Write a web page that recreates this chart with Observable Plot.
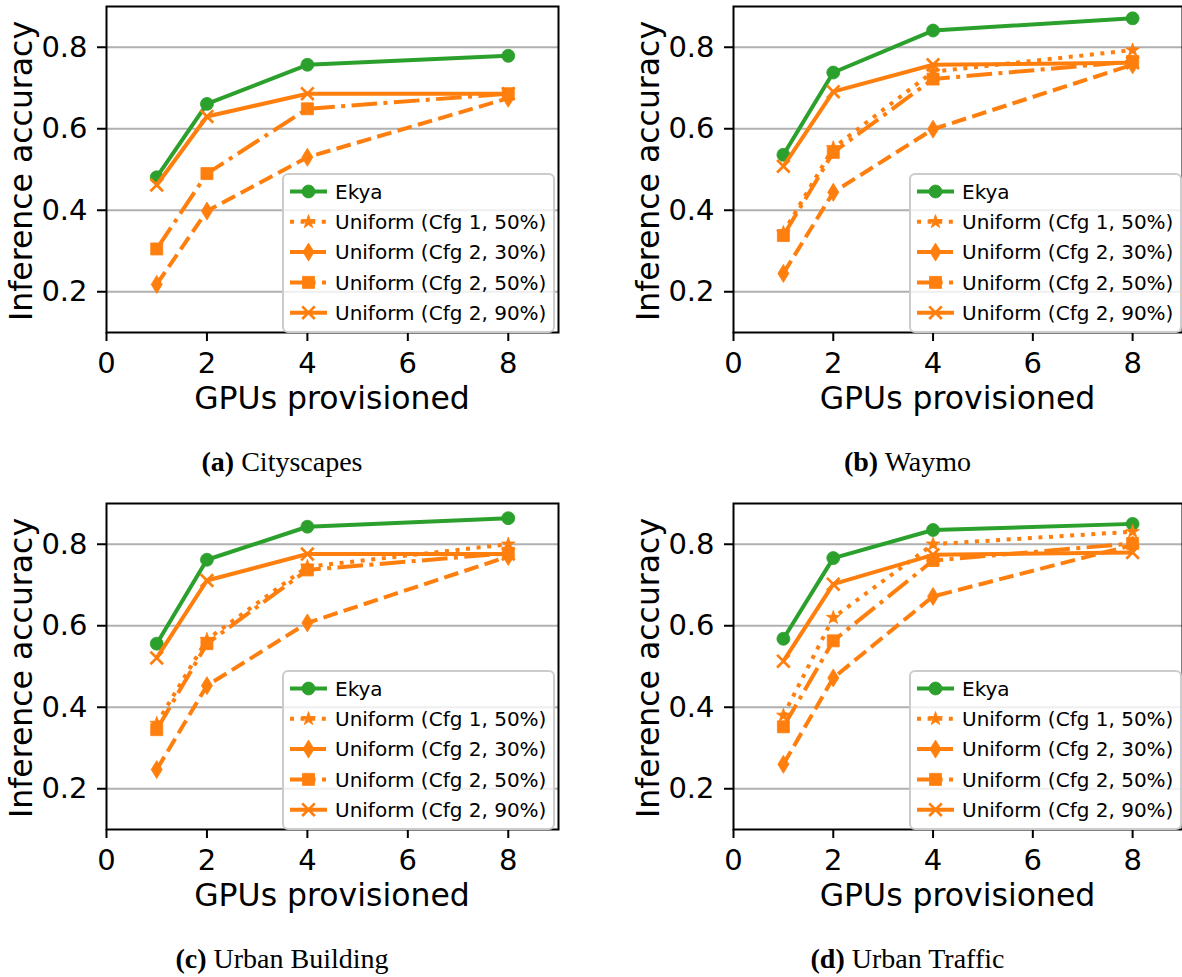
<!DOCTYPE html>
<html>
<head>
<meta charset="utf-8">
<script src="https://cdn.jsdelivr.net/npm/d3@7"></script>
<script src="https://cdn.jsdelivr.net/npm/@observablehq/plot@0.6"></script>
<style>
  html, body { margin: 0; padding: 0; background: #ffffff; }
  #fig { position: relative; width: 1182px; height: 977px; overflow: hidden; background: #ffffff; }
  .panel { position: absolute; }
  #overlay { position: absolute; left: 0; top: 0; pointer-events: none; }
</style>
</head>
<body>
<div id="fig"></div>
<script>
// ---------------- data ----------------
const gpus = [1, 2, 4, 8];
const seriesNames = ["Ekya", "Uniform (Cfg 1, 50%)", "Uniform (Cfg 2, 30%)", "Uniform (Cfg 2, 50%)", "Uniform (Cfg 2, 90%)"];
const xTicks = [0, 2, 4, 6, 8];
const yTicks = [0.2, 0.4, 0.6, 0.8];
const panelLetters = ["a", "b", "c", "d"];
const panelTitles = ["Cityscapes", "Waymo", "Urban Building", "Urban Traffic"];
const xLabel = "GPUs provisioned";
const yLabel = "Inference accuracy";

// (a) Cityscapes
const cityEkya   = [0.481, 0.661, 0.757, 0.779];
const cityCfg1p50 = [];
const cityCfg2p30 = [0.218, 0.398, 0.530, 0.675];
const cityCfg2p50 = [0.305, 0.490, 0.649, 0.686];
const cityCfg2p90 = [0.462, 0.630, 0.686, 0.686];
// (b) Waymo
const waymoEkya   = [0.536, 0.738, 0.841, 0.871];
const waymoCfg1p50 = [0.345, 0.553, 0.740, 0.793];
const waymoCfg2p30 = [0.245, 0.444, 0.599, 0.757];
const waymoCfg2p50 = [0.338, 0.542, 0.722, 0.765];
const waymoCfg2p90 = [0.508, 0.691, 0.757, 0.762];
// (c) Urban Building
const buildEkya   = [0.556, 0.762, 0.843, 0.864];
const buildCfg1p50 = [0.360, 0.566, 0.745, 0.800];
const buildCfg2p30 = [0.247, 0.453, 0.607, 0.770];
const buildCfg2p50 = [0.345, 0.556, 0.737, 0.778];
const buildCfg2p90 = [0.521, 0.711, 0.776, 0.776];
// (d) Urban Traffic
const trafEkya   = [0.568, 0.766, 0.835, 0.850];
const trafCfg1p50 = [0.380, 0.620, 0.800, 0.831];
const trafCfg2p30 = [0.260, 0.472, 0.672, 0.798];
const trafCfg2p50 = [0.352, 0.563, 0.760, 0.802];
const trafCfg2p90 = [0.513, 0.702, 0.774, 0.780];

const panelSeries = [
  [cityEkya, cityCfg1p50, cityCfg2p30, cityCfg2p50, cityCfg2p90],
  [waymoEkya, waymoCfg1p50, waymoCfg2p30, waymoCfg2p50, waymoCfg2p90],
  [buildEkya, buildCfg1p50, buildCfg2p30, buildCfg2p50, buildCfg2p90],
  [trafEkya, trafCfg1p50, trafCfg2p30, trafCfg2p50, trafCfg2p90]
];

// ---------------- styles ----------------
const GREEN = "#2ca02c", ORANGE = "#ff7f0e";
const rad = s => Math.sqrt(s / Math.PI);
const symCircle = { draw(c, s) { const r = rad(s) * 1.08; c.moveTo(r, 0); c.arc(0, 0, r, 0, 2 * Math.PI); c.closePath(); } };
const symSquare = { draw(c, s) { const h = rad(s); c.rect(-h, -h, 2 * h, 2 * h); } };
const symThinDiamond = { draw(c, s) { const r = rad(s); const hh = r * 1.5, hw = r * 0.92; c.moveTo(0, -hh); c.lineTo(hw, 0); c.lineTo(0, hh); c.lineTo(-hw, 0); c.closePath(); } };
const symStar = { draw(c, s) { const R = rad(s) * 1.2, ri = R * 0.4; for (let i = 0; i < 10; i++) { const a = -Math.PI / 2 + i * Math.PI / 5; const rr = i % 2 ? ri : R; const x = rr * Math.cos(a), y = rr * Math.sin(a); i ? c.lineTo(x, y) : c.moveTo(x, y); } c.closePath(); } };
const symX = { draw(c, s) { const h = rad(s) * 1.05; c.moveTo(-h, -h); c.lineTo(h, h); c.moveTo(h, -h); c.lineTo(-h, h); } };

const seriesStyles = [
  { color: GREEN,  dash: null,                 sym: symCircle,      filled: true },
  { color: ORANGE, dash: "4,6.6",              sym: symStar,        filled: true },
  { color: ORANGE, dash: "14.8,6.4",           sym: symThinDiamond, filled: true },
  { color: ORANGE, dash: "25.6,6.4,4,6.4",     sym: symSquare,      filled: true },
  { color: ORANGE, dash: null,                 sym: symX,           filled: false }
];
const MR = 6; // marker "r"
const LW = 4;

// ---------------- layout ----------------
const fig = document.getElementById("fig");
const geo = [
  { left: 0,   top: 0,   width: 591, mL: 106, mR: 33 },
  { left: 591, top: 0,   width: 591, mL: 142, mR: 0 },
  { left: 0,   top: 497, width: 591, mL: 106, mR: 33 },
  { left: 591, top: 497, width: 591, mL: 142, mR: 0 }
];
const H = 420, MT = 6, MB = 88;

geo.forEach((g, p) => {
  const marks = [Plot.gridY(yTicks, { stroke: "#b0b0b0", strokeOpacity: 1, strokeWidth: 2 })];
  panelSeries[p].forEach((vals, i) => {
    const rows = vals.map((v, j) => ({ gpus: gpus[j], acc: v }));
    const st = seriesStyles[i];
    marks.push(Plot.line(rows, {
      x: "gpus", y: "acc", stroke: st.color, strokeWidth: LW,
      strokeDasharray: st.dash || undefined, strokeLinecap: "butt", strokeLinejoin: "round"
    }));
    marks.push(Plot.dot(rows, st.filled
      ? { x: "gpus", y: "acc", symbol: st.sym, r: MR, fill: st.color, stroke: st.color, strokeWidth: 0.8 }
      : { x: "gpus", y: "acc", symbol: st.sym, r: MR, fill: "none", stroke: st.color, strokeWidth: 2.7 }));
  });
  marks.push(Plot.frame({ stroke: "black", strokeWidth: 2 }));
  marks.push(Plot.axisX({ ticks: xTicks, tickSize: 9, tickPadding: 11, label: null, fontSize: 29, strokeWidth: 2 }));
  marks.push(Plot.axisY({ ticks: yTicks, tickSize: 9, tickPadding: 10, label: null, fontSize: 29, strokeWidth: 2, tickFormat: d3.format(".1f") }));

  const chart = Plot.plot({
    width: g.width, height: H,
    marginTop: MT, marginBottom: MB, marginLeft: g.mL, marginRight: g.mR,
    x: { domain: [0, 9] },
    y: { domain: [0.1, 0.9] },
    style: { fontFamily: "DejaVu Sans", fontSize: "29px", color: "black", background: "transparent", overflow: "visible" },
    marks
  });
  chart.classList.add("panel");
  chart.style.left = g.left + "px";
  chart.style.top = g.top + "px";
  fig.appendChild(chart);
});

// ---------------- overlay: labels, captions, legends ----------------
const ov = d3.create("svg").attr("id", "overlay").attr("width", 1182).attr("height", 977)
  .attr("font-family", "DejaVu Sans");
geo.forEach((g, p) => {
  const pl = g.left + g.mL, pr = g.left + g.width - g.mR;
  const pt = g.top + MT, pb = g.top + H - MB;
  const cx = (pl + pr) / 2, cy = (pt + pb) / 2;
  // y label
  ov.append("text").attr("transform", `translate(${pl - 74},${cy + 2}) rotate(-90)`)
    .attr("text-anchor", "middle").attr("font-size", 31.5).attr("fill", "black").text(yLabel);
  // x label
  ov.append("text").attr("x", cx).attr("y", pb + 77).attr("text-anchor", "middle")
    .attr("font-size", 31.5).attr("fill", "black").text(xLabel);
  // caption
  const cap = ov.append("text").attr("x", cx - 50).attr("y", pb + 139).attr("text-anchor", "middle")
    .attr("font-family", "Liberation Serif, Times New Roman, serif").attr("font-size", 28).attr("fill", "black");
  cap.append("tspan").attr("font-weight", "bold").text(`(${panelLetters[p]})`);
  cap.append("tspan").text(" " + panelTitles[p]);
  // legend
  const lx = pl + 177, ly = pt + 168, lw = 271, lh = 158;
  const lg = ov.append("g");
  lg.append("rect").attr("x", lx).attr("y", ly).attr("width", lw).attr("height", lh).attr("rx", 5)
    .attr("fill", "white").attr("fill-opacity", 0.8).attr("stroke", "#cccccc").attr("stroke-width", 2);
  seriesNames.forEach((name, i) => {
    const st = seriesStyles[i];
    const ry = ly + 17.5 + i * 30.3;
    lg.append("line").attr("x1", lx + 7).attr("x2", lx + 44).attr("y1", ry).attr("y2", ry)
      .attr("stroke", st.color).attr("stroke-width", LW).attr("stroke-dasharray", st.dash || null);
    lg.append("path").attr("transform", `translate(${lx + 25.5},${ry})`)
      .attr("d", d3.symbol(st.sym, Math.PI * MR * MR)())
      .attr("fill", st.filled ? st.color : "none").attr("stroke", st.color)
      .attr("stroke-width", st.filled ? 0.8 : 2.7);
    lg.append("text").attr("x", lx + 52).attr("y", ry).attr("dy", "0.36em")
      .attr("font-size", 20).attr("fill", "black").text(name);
  });
});
fig.appendChild(ov.node());
</script>
</body>
</html>
